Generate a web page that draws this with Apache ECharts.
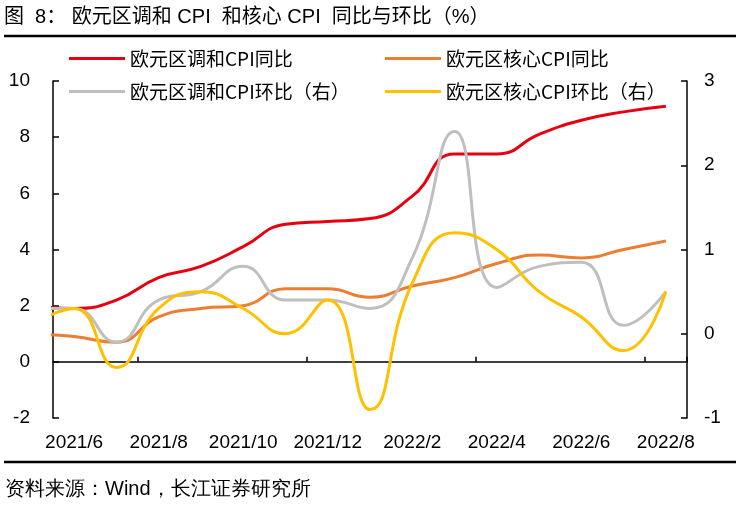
<!DOCTYPE html>
<html><head><meta charset="utf-8">
<script src="https://cdn.jsdelivr.net/npm/echarts@6/dist/echarts.min.js"></script>
<style>html,body{margin:0;padding:0;background:#fff}#c{width:740px;height:507px}</style>
</head><body><div id="c"></div>
<script>
// index 0 (2021/5) lies just left of the plot and is clipped at the axis
const months = ['2021/5','2021/6','2021/7','2021/8','2021/9','2021/10','2021/11','2021/12',
  '2022/1','2022/2','2022/3','2022/4','2022/5','2022/6','2022/7','2022/8'];
const tickLabels = months.slice(1);
const names = ['欧元区调和CPI同比','欧元区核心CPI同比','欧元区调和CPI环比（右）','欧元区核心CPI环比（右）'];
const hicpYoY = [2.0, 1.9, 2.2, 3.0, 3.4, 4.1, 4.9, 5.0, 5.1, 5.9, 7.4, 7.4, 8.1, 8.6, 8.9, 9.1];
const coreYoY = [1.0, 0.9, 0.7, 1.6, 1.9, 2.0, 2.6, 2.6, 2.3, 2.7, 3.0, 3.5, 3.8, 3.7, 4.0, 4.3];
const hicpMoM = [0.3, 0.3, -0.1, 0.4, 0.5, 0.8, 0.4, 0.4, 0.3, 0.9, 2.4, 0.55, 0.8, 0.85, 0.1, 0.5];
const coreMoM = [0.1, 0.3, -0.4, 0.3, 0.5, 0.3, 0.0, 0.4, -0.9, 0.6, 1.2, 1.0, 0.5, 0.2, -0.2, 0.5];
const leftTicks = {min: -2, max: 10, interval: 2};
const rightTicks = {min: -1, max: 3, interval: 1};

const colors = ['#E60012', '#ED7D31', '#BFBFBF', '#FFC000'];
const latin = "'Liberation Sans', 'Noto Sans CJK SC', sans-serif";
const cjk = "'Noto Sans CJK SC', sans-serif";
const pts = arr => arr.map((v, i) => [i, v]);

const chart = echarts.init(document.getElementById('c'), null, {renderer: 'canvas'});
const axisLineStyle = {color: '#000', width: 1.5};
function legendAt(i, left, top) {
  return {data: [names[i]], left: left, top: top, icon: 'rect', itemWidth: 56, itemHeight: 3,
    itemGap: 0, padding: 0, selectedMode: false,
    textStyle: {fontSize: 19, color: '#000', fontFamily: cjk}};
}
const option = {
  animation: false,
  color: colors,
  title: {text: '图  8： 欧元区调和 CPI  和核心 CPI  同比与环比（%）', left: 4, top: 7, padding: 0,
    textStyle: {fontSize: 20, fontWeight: 'normal', color: '#000', fontFamily: latin}},
  legend: [legendAt(0, 69, 49), legendAt(1, 385, 49), legendAt(2, 69, 82), legendAt(3, 385, 82)],
  grid: {left: 53, right: 53, top: 81, bottom: 89, containLabel: false},
  xAxis: [
    {type: 'category', data: tickLabels, boundaryGap: true, position: 'bottom',
      axisLine: {show: false, onZero: false}, axisTick: {show: false}, splitLine: {show: false},
      axisLabel: {interval: 1, margin: 15, fontSize: 19, color: '#000', fontFamily: latin}},
    {type: 'category', data: tickLabels, boundaryGap: true, position: 'bottom',
      axisLine: {show: true, onZero: true, onZeroAxisIndex: 0, lineStyle: axisLineStyle},
      axisTick: {show: true, inside: true, length: 5, interval: (i) => i % 4 === 2, lineStyle: axisLineStyle},
      axisLabel: {show: false}, splitLine: {show: false}},
    {type: 'value', min: 0.5, max: 15.5, show: false, position: 'bottom',
      axisLine: {onZero: false}, splitLine: {show: false}}
  ],
  yAxis: [
    {type: 'value', min: leftTicks.min, max: leftTicks.max, interval: leftTicks.interval, position: 'left',
      axisLine: {show: true, onZero: false, lineStyle: axisLineStyle},
      axisTick: {show: true, inside: true, length: 6, lineStyle: axisLineStyle},
      axisLabel: {margin: 23, fontSize: 19, color: '#000', fontFamily: latin}, splitLine: {show: false}},
    {type: 'value', min: rightTicks.min, max: rightTicks.max, interval: rightTicks.interval, position: 'right',
      axisLine: {show: true, onZero: false, lineStyle: axisLineStyle},
      axisTick: {show: true, inside: true, length: 6, lineStyle: axisLineStyle},
      axisLabel: {margin: 17, fontSize: 19, color: '#000', fontFamily: latin}, splitLine: {show: false}}
  ],
  series: [
    {name: names[0], type: 'line', xAxisIndex: 2, yAxisIndex: 0, data: pts(hicpYoY)},
    {name: names[1], type: 'line', xAxisIndex: 2, yAxisIndex: 0, data: pts(coreYoY)},
    {name: names[2], type: 'line', xAxisIndex: 2, yAxisIndex: 1, data: pts(hicpMoM)},
    {name: names[3], type: 'line', xAxisIndex: 2, yAxisIndex: 1, data: pts(coreMoM)}
  ].map((s, i) => Object.assign(s, {smooth: 0.5, showSymbol: false, symbol: 'none', clip: true,
      lineStyle: {width: 3, color: colors[i]}, itemStyle: {color: colors[i]}})),
  graphic: [
    {type: 'line', shape: {x1: 4, y1: 36, x2: 736, y2: 36}, style: {stroke: '#000', lineWidth: 2.5}, silent: true},
    {type: 'line', shape: {x1: 4, y1: 462, x2: 736, y2: 462}, style: {stroke: '#000', lineWidth: 2.5}, silent: true},
    {type: 'text', left: 5, top: 479, silent: true,
      style: {text: '资料来源：Wind，长江证券研究所', fontSize: 20, fill: '#000', font: "20px " + latin}}
  ]
};
chart.setOption(option);
</script></body></html>
